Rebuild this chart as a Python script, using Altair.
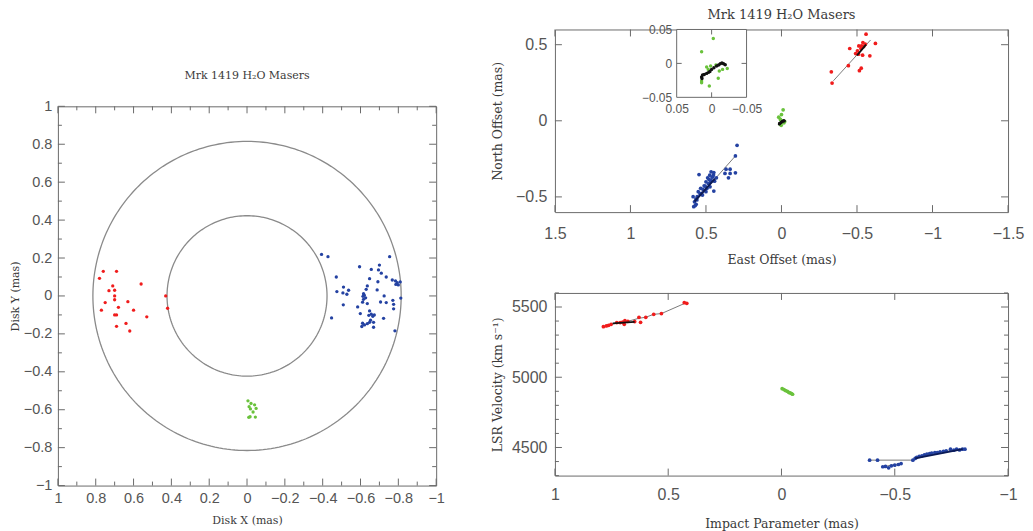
import altair as alt
import pandas as pd
import numpy as np

# ---------------- Left panel: disk-plane positions (mas) ----------------
disk_red_x = [0.78, 0.76, 0.69, 0.77, 0.75, 0.73, 0.71, 0.70, 0.70, 0.70, 0.68,
              0.69, 0.70, 0.69, 0.64, 0.63, 0.62, 0.60, 0.56, 0.53, 0.43, 0.42]
disk_red_y = [0.093, 0.13, 0.13, -0.075, -0.035, 0.028, 0.053, 0.03, 0.0, -0.02, -0.06,
              -0.10, -0.10, -0.16, -0.145, -0.03, -0.185, -0.075, 0.063, -0.11, 0.0, -0.065]
disk_blue_x = [-0.394, -0.428, -0.754, -0.472, -0.475, -0.51, -0.537, -0.507, -0.528, -0.509,
               -0.447, -0.595, -0.657, -0.70, -0.695, -0.71, -0.736, -0.785, -0.768, -0.794,
               -0.81, -0.80, -0.787, -0.648, -0.692, -0.636, -0.63, -0.616, -0.62, -0.613,
               -0.627, -0.616, -0.611, -0.636, -0.585, -0.599, -0.648, -0.688, -0.706, -0.725,
               -0.736, -0.771, -0.775, -0.775, -0.813, -0.644, -0.657, -0.665, -0.653, -0.636,
               -0.611, -0.621, -0.607, -0.648, -0.669, -0.669, -0.673, -0.722, -0.782]
disk_blue_y = [0.219, 0.207, 0.207, 0.10, 0.023, 0.047, 0.03, 0.016, 0.009, -0.047,
               -0.116, 0.154, 0.14, 0.163, 0.137, 0.12, 0.10, 0.079, 0.084, 0.07,
               0.074, 0.058, 0.061, 0.091, 0.075, 0.053, 0.035, 0.012, 0.004, -0.002,
               -0.01, -0.018, -0.033, -0.04, -0.058, -0.093, -0.079, 0.032, -0.032, 0.0,
               -0.035, -0.023, -0.044, -0.068, -0.011, -0.102, -0.096, -0.107, -0.128, -0.146,
               -0.144, -0.153, -0.161, -0.139, -0.165, -0.139, -0.10, -0.118, -0.184]
disk_green_x = [-0.005, -0.021, -0.04, -0.011, -0.048, -0.018, -0.032, -0.009, -0.016, -0.044]
disk_green_y = [-0.553, -0.567, -0.574, -0.584, -0.593, -0.596, -0.612, -0.64, -0.637, -0.639]
ring_radii = [0.423, 0.815]

# ---------------- Top right: sky positions (mas) ----------------
sky_red_x = [-0.56, -0.622, -0.452, -0.53, -0.512, -0.544, -0.526, -0.539, -0.555, -0.491,
             -0.51, -0.537, -0.585, -0.443, -0.528, -0.516, -0.33, -0.335, -0.503]
sky_red_y = [0.569, 0.508, 0.475, 0.492, 0.492, 0.488, 0.475, 0.514, 0.503, 0.442,
             0.438, 0.431, 0.427, 0.362, 0.346, 0.329, 0.322, 0.248, 0.46]
sky_blue_x = [0.294, 0.305, 0.367, 0.34, 0.374, 0.34, 0.305, 0.351, 0.546, 0.466, 0.448,
              0.475, 0.454, 0.489, 0.466, 0.443, 0.50, 0.484, 0.512, 0.448, 0.535, 0.50,
              0.551, 0.53, 0.585, 0.558, 0.567, 0.576, 0.565, 0.581, 0.571, 0.431, 0.473,
              0.493, 0.523, 0.52, 0.505, 0.47, 0.46, 0.54, 0.56, 0.45, 0.48]
sky_blue_y = [-0.161, -0.231, -0.318, -0.318, -0.346, -0.346, -0.342, -0.375, -0.353, -0.335, -0.34,
              -0.357, -0.368, -0.375, -0.39, -0.397, -0.401, -0.412, -0.427, -0.462, -0.444, -0.466,
              -0.466, -0.477, -0.499, -0.499, -0.514, -0.532, -0.549, -0.564, -0.557, -0.375, -0.434,
              -0.444, -0.488, -0.45, -0.43, -0.40, -0.37, -0.48, -0.52, -0.355, -0.385]
sky_green_x = [-0.011, 0.0, 0.018, 0.007, -0.005, 0.011, -0.016, 0.002, -0.021]
sky_green_y = [0.072, 0.041, 0.024, 0.009, -0.004, -0.02, -0.013, -0.03, -0.004]
red_fit_x = [-0.344, -0.59]
red_fit_y = [0.263, 0.531]
red_fit_dark_x = [-0.50, -0.56]
red_fit_dark_y = [0.43, 0.50]
blue_fit_x = [0.574, 0.305]
blue_fit_y = [-0.532, -0.231]
blue_fit_dark_x = [0.576, 0.44]
blue_fit_dark_y = [-0.53, -0.38]

# inset (systemic masers, zoomed)
inset_lim = [-0.05, 0.05]
in_green_x = [-0.0024, 0.0143, 0.0071, 0.0048, 0.0014, -0.0062, -0.011, -0.0157, -0.0224,
              -0.0095, 0.0143, 0.0033, 0.0143]
in_green_y = [0.0368, 0.0172, -0.0054, -0.0088, -0.0039, -0.0025, -0.0113, -0.0088, -0.0074,
              -0.022, -0.0284, -0.0333, -0.026]
in_black_x = [0.0143, 0.0129, 0.0105, 0.0071, 0.0043, 0.0024, 0.0, -0.0033, -0.0071, -0.01,
              -0.0124, -0.0148, -0.0171, -0.0195, 0.0138]
in_black_y = [-0.0201, -0.0172, -0.0162, -0.0147, -0.0132, -0.0118, -0.0088, -0.0064, -0.0039,
              -0.0025, -0.0005, 0.0005, -0.0005, -0.002, -0.0221]

# ---------------- Bottom right: position-velocity ----------------
vel_red_b = [0.786, 0.773, 0.763, 0.752, 0.727, 0.712, 0.701, 0.694, 0.691, 0.678, 0.648,
             0.629, 0.622, 0.599, 0.564, 0.530, 0.429, 0.418]
vel_red_v = [5360, 5365, 5370, 5377, 5389, 5389, 5393, 5377, 5403, 5398, 5396,
             5427, 5391, 5427, 5448, 5453, 5531, 5526]
vel_green_b = [-0.003, -0.011, -0.018, -0.026, -0.032, -0.038, -0.044, -0.049]
vel_green_v = [4919, 4912, 4905, 4900, 4893, 4888, 4884, 4879]
vel_blue_b = [-0.389, -0.424, -0.447, -0.459, -0.473, -0.485, -0.50, -0.516, -0.528, -0.58,
              -0.59, -0.597, -0.608, -0.62, -0.631, -0.642, -0.654, -0.663, -0.677, -0.688,
              -0.70, -0.715, -0.727, -0.746, -0.761, -0.773, -0.786, -0.799, -0.81]
vel_blue_v = [4410, 4410, 4363, 4365, 4355, 4370, 4374, 4379, 4386, 4410,
              4422, 4429, 4436, 4441, 4448, 4453, 4457, 4460, 4464, 4464,
              4469, 4472, 4476, 4488, 4481, 4488, 4483, 4488, 4488]
red_curve_b = [0.786, 0.752, 0.712, 0.678, 0.629, 0.599, 0.564, 0.530, 0.424]
red_curve_v = [5360, 5377, 5389, 5398, 5420, 5427, 5448, 5453, 5528]
red_curve_dark_b = [0.745, 0.648]
red_curve_dark_v = [5384, 5394]
blue_curve_b = [-0.389, -0.58, -0.62, -0.70, -0.81]
blue_curve_v = [4410, 4410, 4441, 4469, 4488]
blue_low_b = [-0.447, -0.528]
blue_low_v = [4363, 4386]
blue_curve_dark_b = [-0.59, -0.80]
blue_curve_dark_v = [4422, 4488]

# tick values
disk_major = [-1, -0.8, -0.6, -0.4, -0.2, 0, 0.2, 0.4, 0.6, 0.8, 1]
disk_minor = [-0.9, -0.7, -0.5, -0.3, -0.1, 0.1, 0.3, 0.5, 0.7, 0.9]
sky_x_major = [-1.5, -1, -0.5, 0, 0.5, 1, 1.5]
sky_y_major = [-0.5, 0, 0.5]
vel_x_major = [-1, -0.5, 0, 0.5, 1]
vel_y_major = [4500, 5000, 5500]
vel_y_minor = [4300, 4400, 4600, 4700, 4800, 4900, 5100, 5200, 5300, 5400, 5600]
inset_major = [-0.05, 0, 0.05]
inset_ticks = [0]

# ---------------- style ----------------
RED, BLUE, GREEN, BLACK = '#f01c1c', '#2442a2', '#6ac23c', '#111111'
FRAME, RING, FIT = '#6a6a6a', '#8a8a8a', '#7a7a7a'
TXT, LAB = '#3a3a3a', '#555555'
SERIF, SANS = 'DejaVu Serif', 'Liberation Sans'
TITLE = 'Mrk 1419 H\u2082O Masers'


def df_xy(x, y):
    return pd.DataFrame({'x': x, 'y': y})


class Panel:
    def __init__(self, sx, sy, ax, ay):
        self.sx, self.sy, self.ax, self.ay = sx, sy, ax, ay

    def X(self, f):
        return alt.X(f, scale=self.sx, axis=self.ax)

    def Y(self, f):
        return alt.Y(f, scale=self.sy, axis=self.ay)

    def points(self, x, y, color, size):
        return alt.Chart(df_xy(x, y)).mark_circle(color=color, size=size, opacity=1).encode(
            x=self.X('x:Q'), y=self.Y('y:Q'))

    def line(self, x, y, color, width):
        d = df_xy(x, y)
        d['k'] = range(len(d))
        return alt.Chart(d).mark_line(color=color, strokeWidth=width).encode(
            x=self.X('x:Q'), y=self.Y('y:Q'), order='k:Q')

    def ticks(self, W, H, xsets, ysets, x0=0, y0=0):
        out = []
        for vals, L in xsets:
            b = alt.Chart(pd.DataFrame({'v': vals})).mark_rule(color=FRAME, strokeWidth=1)
            out.append(b.encode(x=self.X('v:Q'), y=alt.value(y0 + H), y2=alt.value(y0 + H - L)))
            out.append(b.encode(x=self.X('v:Q'), y=alt.value(y0), y2=alt.value(y0 + L)))
        for vals, L in ysets:
            b = alt.Chart(pd.DataFrame({'v': vals})).mark_rule(color=FRAME, strokeWidth=1)
            out.append(b.encode(y=self.Y('v:Q'), x=alt.value(x0), x2=alt.value(x0 + L)))
            out.append(b.encode(y=self.Y('v:Q'), x=alt.value(x0 + W), x2=alt.value(x0 + W - L)))
        return out


def axis(title, values, fmt, lsize, tsize, lpad, tpad, **kw):
    return alt.Axis(title=title, values=values, format=fmt, ticks=False, domain=False, grid=False,
                    labelFont=SANS, labelFontSize=lsize, labelColor=LAB, labelPadding=lpad,
                    labelOverlap=False, labelFlush=False,
                    titleFont=SERIF, titleFontSize=tsize, titleFontWeight='normal',
                    titleColor=TXT, titlePadding=tpad, **kw)


# ================= Left panel =================
W1, H1 = 379, 380
P1 = Panel(alt.Scale(domain=[-1, 1], reverse=True, nice=False, zero=False),
           alt.Scale(domain=[-1, 1], nice=False, zero=False),
           axis('Disk X (mas)', disk_major, '~g', 14.5, 11, 6, 10),
           axis('Disk Y (mas)', disk_major, '~g', 14.5, 11, 6, 3))

ang = np.linspace(0, 2 * np.pi, 241)
ring_df = pd.DataFrame([{'ring': i, 'k': k, 'x': r * np.cos(a), 'y': r * np.sin(a)}
                        for i, r in enumerate(ring_radii) for k, a in enumerate(ang)])
rings = alt.Chart(ring_df).mark_line(color=RING, strokeWidth=1.3).encode(
    x=P1.X('x:Q'), y=P1.Y('y:Q'), detail='ring:N', order='k:Q')

left_layers = P1.ticks(W1, H1, [(disk_major, 7), (disk_minor, 4)], [(disk_major, 7), (disk_minor, 4)])
left_layers += [
    rings,
    P1.points(disk_red_x, disk_red_y, RED, 11),
    P1.points(disk_blue_x, disk_blue_y, BLUE, 11),
    P1.points(disk_green_x, disk_green_y, GREEN, 11),
]
left = alt.layer(*left_layers).properties(
    width=W1, height=H1,
    title=alt.TitleParams(TITLE, font=SERIF, fontSize=11, fontWeight='normal', color=TXT,
                          offset=17, anchor='middle', frame='group'))

spacer = alt.Chart(pd.DataFrame({'a': [0]})).mark_point(opacity=0).encode(
    x=alt.X('a:Q', axis=None), y=alt.Y('a:Q', axis=None)).properties(
    width=20, height=40, view=alt.ViewBackground(fill='white', stroke='white', strokeOpacity=0))

left_col = alt.vconcat(spacer, left, spacing=0)

# ================= Top right panel =================
W2, H2 = 454, 183
P2 = Panel(alt.Scale(domain=[-1.5, 1.5], reverse=True, nice=False, zero=False),
           alt.Scale(domain=[-0.6, 0.6], nice=False, zero=False),
           axis('East Offset (mas)', sky_x_major, '~g', 16, 12.5, 13, 12),
           axis('North Offset (mas)', sky_y_major, '~g', 16, 12.5, 8, 11))

tr_layers = P2.ticks(W2, H2, [(sky_x_major, 7)], [(sky_y_major, 7)])
tr_layers += [
    P2.line(red_fit_x, red_fit_y, FIT, 1),
    P2.line(blue_fit_x, blue_fit_y, FIT, 1),
    P2.points(sky_red_x, sky_red_y, RED, 14),
    P2.points(sky_blue_x, sky_blue_y, BLUE, 14),
    P2.points(sky_green_x, sky_green_y, GREEN, 14),
    P2.points(in_black_x, in_black_y, BLACK, 8),
    P2.line(red_fit_dark_x, red_fit_dark_y, BLACK, 1.8),
    P2.line(blue_fit_dark_x, blue_fit_dark_y, '#0b1a55', 2),
]
tr_main = alt.layer(*tr_layers)

# inset placement (pixels inside the top-right plot)
IX0, IX1, IY0, IY1 = 122, 192, 0, 68
PI = Panel(alt.Scale(domain=inset_lim, reverse=True, range=[IX0, IX1], nice=False, zero=False),
           alt.Scale(domain=inset_lim, range=[IY1, IY0], nice=False, zero=False),
           axis(None, inset_major, '~g', 12, 10, 6, 0, orient='bottom', offset=IY1 - H2),
           axis(None, inset_major, '~g', 12, 10, 5, 0, orient='left', offset=-IX0))
box = alt.Chart(pd.DataFrame({'x': [inset_lim[0]], 'x2': [inset_lim[1]],
                              'y': [inset_lim[0]], 'y2': [inset_lim[1]]})).mark_rect(
    fill='white', stroke=FRAME, strokeWidth=1).encode(
    x=PI.X('x:Q'), x2='x2:Q', y=PI.Y('y:Q'), y2='y2:Q')
in_layers = [box]
in_layers += PI.ticks(IX1 - IX0, IY1 - IY0, [(inset_ticks, 5)], [(inset_ticks, 5)], x0=IX0, y0=IY0)
in_layers += [
    PI.points(in_green_x, in_green_y, GREEN, 12),
    PI.points(in_black_x, in_black_y, BLACK, 12),
]
tr_inset = alt.layer(*in_layers)

top_right = alt.layer(tr_main, tr_inset).resolve_scale(x='independent', y='independent').properties(
    width=W2, height=H2,
    title=alt.TitleParams(TITLE, font=SERIF, fontSize=13, fontWeight='normal', color=TXT,
                          offset=1, anchor='middle', frame='group'))

# ================= Bottom right panel =================
W3, H3 = 454, 183
P3 = Panel(alt.Scale(domain=[-1, 1], reverse=True, nice=False, zero=False),
           alt.Scale(domain=[4300, 5600], nice=False, zero=False),
           axis('Impact Parameter (mas)', vel_x_major, '~g', 16, 12.5, 11, 15),
           axis('LSR Velocity (km s\u207b\u00b9)', vel_y_major, 'd', 16, 12.5, 8, 7))

br_layers = P3.ticks(W3, H3, [(vel_x_major, 7)], [(vel_y_major, 7), (vel_y_minor, 4)])
br_layers += [
    P3.line(red_curve_b, red_curve_v, FIT, 1),
    P3.line(blue_curve_b, blue_curve_v, FIT, 1),
    P3.line(blue_low_b, blue_low_v, FIT, 1),
    P3.points(vel_red_b, vel_red_v, RED, 14),
    P3.points(vel_blue_b, vel_blue_v, BLUE, 14),
    P3.points(vel_green_b, vel_green_v, GREEN, 14),
    P3.line(red_curve_dark_b, red_curve_dark_v, BLACK, 1.8),
    P3.line(blue_curve_dark_b, blue_curve_dark_v, '#0b1a55', 1.8),
]
bottom_right = alt.layer(*br_layers).properties(width=W3, height=H3)

right_col = alt.vconcat(top_right, bottom_right, spacing=26)

chart = alt.hconcat(left_col, right_col, spacing=45).properties(
    padding=0, background='white').configure_view(stroke=FRAME, strokeWidth=1)

chart.save("out.html", embed_options={"renderer": "svg", "actions": False})
